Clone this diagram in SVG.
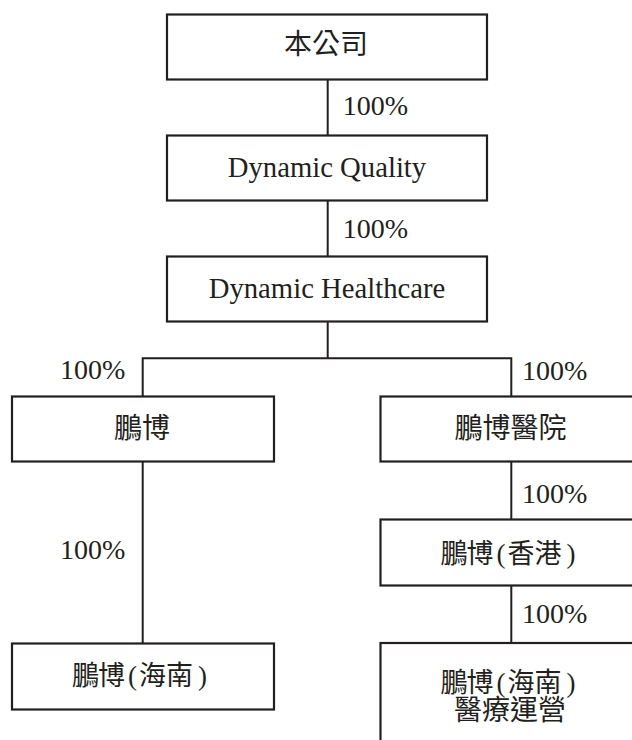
<svg xmlns="http://www.w3.org/2000/svg" width="632" height="740" viewBox="0 0 632 740">
<style>
.box{fill:#ffffff;stroke:#231f20;stroke-width:2.2}
.ln{fill:none;stroke:#231f20;stroke-width:2}
.t{font-family:'Liberation Serif','Noto Sans CJK TC',serif;font-size:28px;fill:#231f20;text-anchor:middle}
.e{font-family:'Liberation Serif','Noto Sans CJK TC',serif;font-size:28.7px;fill:#231f20;text-anchor:middle}
.c{font-family:'Liberation Serif','Noto Sans CJK TC',serif;font-size:27px;fill:#231f20}
.p{font-family:'Liberation Serif','Noto Sans CJK TC',serif;font-size:28px;fill:#231f20}
</style>
<rect width="632" height="740" fill="#ffffff"/>
<g id="connectors">
<line class="ln" x1="327.7" y1="79.5" x2="327.7" y2="135.5"/>
<line class="ln" x1="327.7" y1="200.5" x2="327.7" y2="256.5"/>
<polyline class="ln" points="327.7,321.5 327.7,358.3"/>
<polyline class="ln" points="142.7,396.5 142.7,358.3 511.3,358.3 511.3,396.5"/>
<line class="ln" x1="142.7" y1="461.5" x2="142.7" y2="643.5"/>
<line class="ln" x1="511.3" y1="461.5" x2="511.3" y2="519.5"/>
<line class="ln" x1="511.3" y1="585.5" x2="511.3" y2="643"/>
<text class="p" x="342.7" y="115">100%</text>
<text class="p" x="342.7" y="238.3">100%</text>
<text class="p" x="60" y="379">100%</text>
<text class="p" x="60" y="559">100%</text>
<text class="p" x="522" y="380">100%</text>
<text class="p" x="522" y="503">100%</text>
<text class="p" x="522" y="623">100%</text>
</g>
<g id="node-company">
<rect class="box" x="167" y="14.5" width="320" height="65"/>
<text class="t" x="326" y="54">本公司</text>
</g>
<g id="node-dynamic-quality">
<rect class="box" x="167" y="135.5" width="320" height="65"/>
<text class="e" x="327" y="177">Dynamic Quality</text>
</g>
<g id="node-dynamic-healthcare">
<rect class="box" x="167" y="256.5" width="320" height="65"/>
<text class="e" x="327" y="298">Dynamic Healthcare</text>
</g>
<g id="node-pengbo">
<rect class="box" x="12" y="396.5" width="262" height="65"/>
<text class="t" x="142" y="438">鵬博</text>
</g>
<g id="node-pengbo-hospital">
<rect class="box" x="380.5" y="396.5" width="262" height="65"/>
<text class="t" x="510.5" y="438">鵬博醫院</text>
</g>
<g id="node-pengbo-hk">
<rect class="box" x="380.5" y="519.5" width="262" height="66"/>
<text class="c" x="440.5 466.5 496.5 507.5 534.5 566.5" y="562.5">鵬博(香港)</text>
</g>
<g id="node-pengbo-hainan">
<rect class="box" x="12" y="643.5" width="262" height="66"/>
<text class="c" x="72 98 128 139 166 198" y="685">鵬博(海南)</text>
</g>
<g id="node-pengbo-hainan-medical">
<rect class="box" x="380.5" y="643" width="262" height="120"/>
<text class="c" x="440.5 466.5 496.5 507.5 534.5 566.5" y="691.5">鵬博(海南)</text>
<text class="t" x="510" y="720">醫療運營</text>
</g>
</svg>
